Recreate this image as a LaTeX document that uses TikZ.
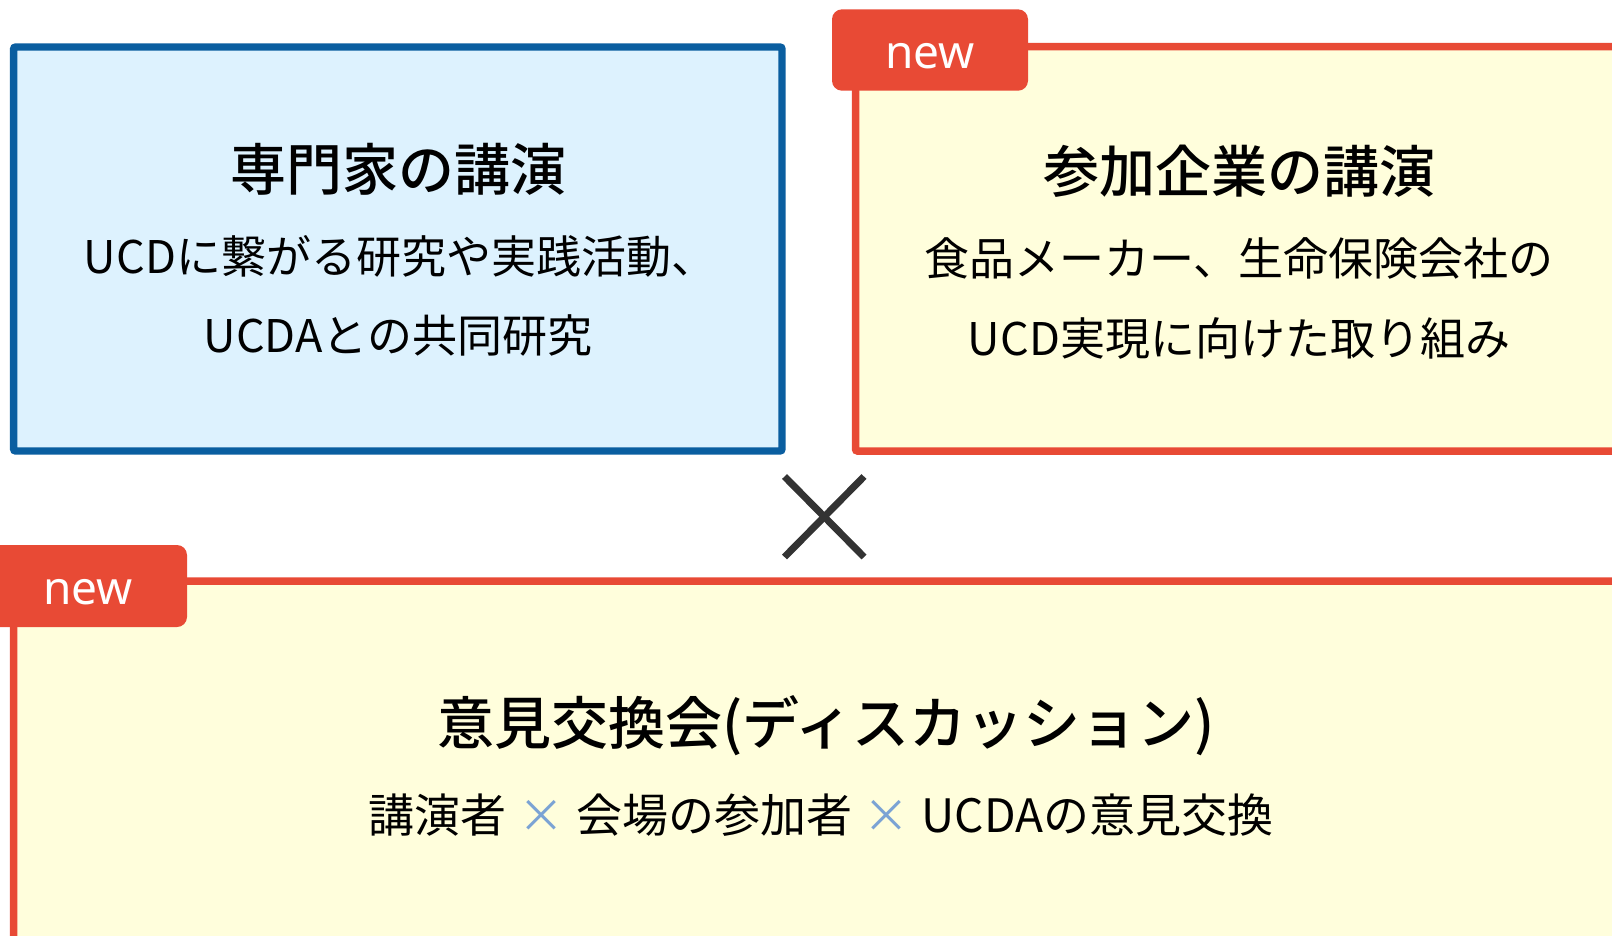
\documentclass[tikz,border=0pt]{standalone}
\usepackage{fontspec}
\setmainfont{Noto Sans CJK JP}[BoldFont={Noto Sans CJK JP Medium}]
\newfontfamily\tagfont{Noto Sans}
\definecolor{boxblue}{RGB}{10,94,160}
\definecolor{fillblue}{RGB}{221,242,254}
\definecolor{boxred}{RGB}{232,74,53}
\definecolor{fillyellow}{RGB}{255,254,220}
\definecolor{xgray}{RGB}{51,51,51}
\definecolor{xblue}{RGB}{123,163,212}
\tikzset{
  bluebox/.style={draw=boxblue, fill=fillblue, line width=7.3pt, rounded corners=2pt},
  redbox/.style={draw=boxred, fill=fillyellow, line width=7.5pt, rounded corners=2pt},
  newtag/.style={fill=boxred, rounded corners=10pt},
  tagtext/.style={text=white, font=\tagfont\fontsize{46pt}{50pt}\selectfont, inner sep=0pt, anchor=base},
  titletext/.style={font=\bfseries\fontsize{56pt}{60pt}\selectfont, inner sep=0pt, anchor=base},
  subtext/.style={font=\fontsize{45pt}{50pt}\selectfont, inner sep=0pt, anchor=base},
  crossline/.style={draw=xgray, line width=7pt},
}
\begin{document}
\begin{tikzpicture}[x=1pt,y=-1pt]
\useasboundingbox (0,0) rectangle (1612,935);
% boxes
\draw[bluebox] (13.6,47) rectangle (782,451);
\draw[redbox] (855.5,46.7) rectangle (1650,451);
\draw[redbox] (13.6,581) rectangle (1650,990);
% tags
\fill[newtag] (832,9.3) rectangle (1028,90.7);
\node[tagtext] (tag1) at (930,68) {new};
\fill[newtag] (-10,545) rectangle (187,627);
\node[tagtext] (tag2) at (88,604) {new};
% cross
\coordinate (xa) at (784.5,476.5);
\coordinate (xb) at (864,557);
\coordinate (xc) at (864,476.5);
\coordinate (xd) at (784.5,557);
\draw[crossline] (xa) -- (xb);
\draw[crossline] (xc) -- (xd);
% texts
\node[titletext] (t1) at (398,190) {専門家の講演};
\node[subtext] (s1a) at (400,273) {UCDに繋がる研究や実践活動、};
\node[subtext] (s1b) at (398,352) {UCDAとの共同研究};
\node[titletext] (t2) at (1239,192) {参加企業の講演};
\node[subtext] (s2a) at (1239,275) {食品メーカー、生命保険会社の};
\node[subtext] (s2b) at (1239,355) {UCD実現に向けた取り組み};
\node[titletext, font=\bfseries\fontsize{57pt}{60pt}\selectfont] (t3) at (826,744) {意見交換会(ディスカッション)};
\node[subtext, font=\fontsize{46pt}{50pt}\selectfont] (s3) at (821,832) {講演者\hspace{1.5pt} {\color{xblue}×} \hspace{1.5pt}会場の参加者\hspace{1.5pt} {\color{xblue}×} \hspace{1.5pt}UCDAの意見交換};
\end{tikzpicture}
\end{document}
